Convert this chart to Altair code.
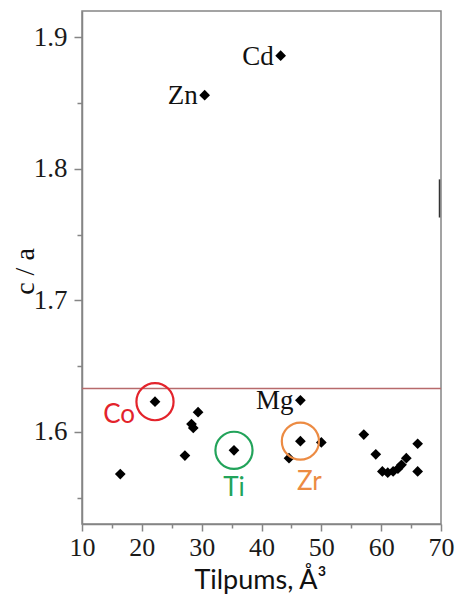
import altair as alt
import pandas as pd

# --- data ---
volume = [16.4, 22.2, 27.2, 28.3, 28.6, 29.4, 30.5, 35.4, 43.2, 44.6, 46.5,
          46.5, 50.0, 57.1, 59.1, 60.2, 61.1, 62.0, 62.8, 63.4, 64.2, 66.1, 66.1]
ratio = [1.568, 1.623, 1.582, 1.606, 1.603, 1.615, 1.856, 1.586, 1.886, 1.580,
         1.624, 1.593, 1.592, 1.598, 1.583, 1.570, 1.569, 1.570, 1.572, 1.575,
         1.580, 1.591, 1.570]

black_names = ["Zn", "Cd", "Mg"]
black_vol = [30.5, 43.2, 46.5]
black_ratio = [1.856, 1.886, 1.624]

ring_names = ["Co", "Ti", "Zr"]
ring_vol = [22.2, 35.4, 46.5]
ring_ratio = [1.623, 1.586, 1.593]
ring_colors = ["#e3232b", "#22a35a", "#ec8b43"]

ideal_ratio = [1.633]

# stray mark at the right edge of the scanned figure
stray_vol = [69.75]
stray_lo = [1.763]
stray_hi = [1.792]

x_ticks = [10, 15, 20, 25, 30, 35, 40, 45, 50, 55, 60, 65, 70]
y_ticks = [1.55, 1.6, 1.65, 1.7, 1.75, 1.8, 1.85, 1.9]

W, H = 359, 513
AX = "#858585"
SERIF = "Liberation Serif"
SANS = "Lato"

xs = alt.Scale(domain=[10, 70], nice=False, zero=False)
ys = alt.Scale(domain=[1.53, 1.92], nice=False, zero=False)

x_axis = alt.Axis(
    values=x_ticks, grid=False, labelFlush=False,
    labelExpr="datum.value % 10 == 0 ? datum.label : ''",
    tickSize={"condition": {"test": "datum.value % 10 == 0", "value": 7}, "value": 4},
    tickColor=AX, tickWidth=1.5, domainColor=AX, domainWidth=1.5,
    labelFont=SERIF, labelFontSize=26, labelColor="#1a1a1a", labelPadding=3,
    labelOverlap=False,
    title="Tilpums, Å³", titleFont=SANS, titleFontSize=27, titleFontWeight="normal",
    titleColor="#111111", titleX=178, titleY=64, titleBaseline="alphabetic",
    titleAlign="center",
)
y_axis = alt.Axis(
    values=y_ticks, grid=False, labelFlush=False,
    labelExpr="round(datum.value*100) % 10 == 0 ? format(datum.value, '.1f') : ''",
    tickSize={"condition": {"test": "round(datum.value*100) % 10 == 0", "value": 8}, "value": 5},
    tickColor=AX, tickWidth=1.5, domainColor=AX, domainWidth=1.5,
    labelFont=SERIF, labelFontSize=27, labelColor="#1a1a1a", labelPadding=7,
    labelOverlap=False,
    title="c / a", titleFont=SERIF, titleFontSize=28, titleFontWeight="normal",
    titleColor="#111111", titleX=-57, titleY=260, titleAngle=-90,
    titleBaseline="middle", titleAlign="center",
)

X = alt.X("v:Q", scale=xs, axis=x_axis)
Y = alt.Y("ca:Q", scale=ys, axis=y_axis)

pts = pd.DataFrame({"v": volume, "ca": ratio})
blk = pd.DataFrame({"name": black_names, "v": black_vol, "ca": black_ratio})
rng = pd.DataFrame({"name": ring_names, "v": ring_vol, "ca": ring_ratio, "col": ring_colors})
ideal = pd.DataFrame({"ca": ideal_ratio})
stray = pd.DataFrame({"v": stray_vol, "ca": stray_lo, "ca2": stray_hi})

rule = alt.Chart(ideal).mark_rule(color="#b76a6b", strokeWidth=1.6).encode(y=Y)

stray_mark = alt.Chart(stray).mark_rule(color="#333333", strokeWidth=1.5).encode(
    x=X, y=Y, y2="ca2:Q")

diamonds = alt.Chart(pts).mark_point(
    shape="diamond", filled=True, size=115, color="black", opacity=1
).encode(x=X, y=Y)

black_labels = alt.Chart(blk).mark_text(
    align="right", baseline="middle", dx=-7, dy=1, font=SERIF, fontSize=27, color="#111111"
).encode(x=X, y=Y, text="name:N")

rings = alt.Chart(rng).mark_point(
    shape="circle", filled=False, size=1380, strokeWidth=2.2, opacity=1
).encode(x=X, y=Y, color=alt.Color("col:N", scale=None))

ring_style = {"Co": dict(align="right", dx=-20, dy=13),
              "Ti": dict(align="center", dx=0, dy=38),
              "Zr": dict(align="center", dx=9, dy=41)}
ring_labels = []
for nm in ring_names:
    st = ring_style[nm]
    ring_labels.append(
        alt.Chart(rng).transform_filter(alt.datum.name == nm).mark_text(
            baseline="middle", font=SANS, fontSize=26, **st
        ).encode(x=X, y=Y, text="name:N", color=alt.Color("col:N", scale=None))
    )

chart = alt.layer(rule, stray_mark, diamonds, black_labels, rings, *ring_labels).properties(
    width=W, height=H,
    padding={"left": 74, "top": 3, "right": 14, "bottom": 70},
    autosize=alt.AutoSizeParams(type="none"),
    background="white",
).configure_view(stroke=AX, strokeWidth=1.5)

chart.save("out.html", embed_options={"renderer": "svg", "actions": False})
